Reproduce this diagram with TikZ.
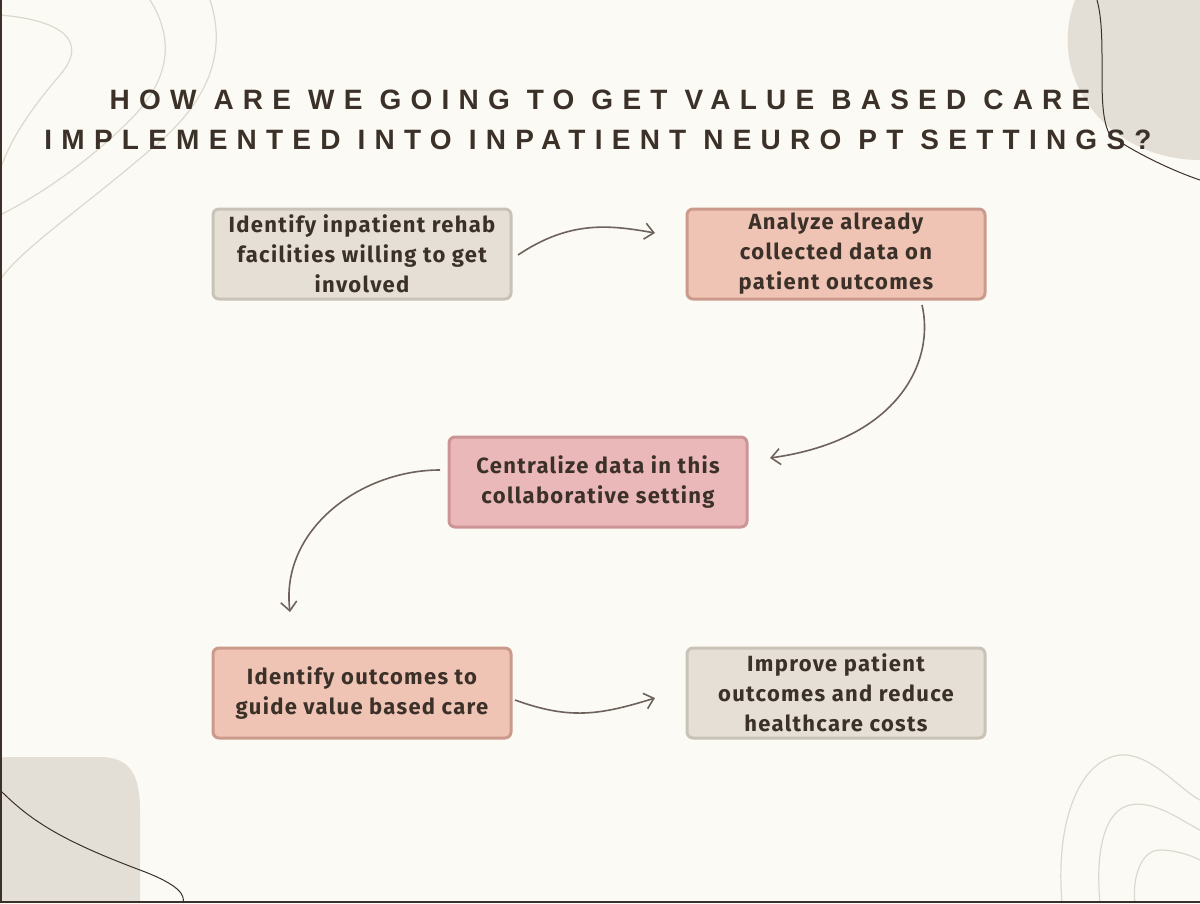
\documentclass[tikz,border=0pt]{standalone}
\usepackage{fontspec}
\setmainfont{Fira Sans}
\newfontfamily\boxfont[LetterSpace=6]{Fira Sans}
\newfontfamily\titlefont[LetterSpace=33]{Liberation Sans}
\usetikzlibrary{arrows.meta}
\definecolor{bg}{HTML}{FBFAF4}
\definecolor{ink}{HTML}{3B3129}
\definecolor{greyf}{HTML}{E5DFD6}
\definecolor{greyb}{HTML}{C9C2B6}
\definecolor{peachf}{HTML}{EFC4B5}
\definecolor{peachb}{HTML}{CC9A8C}
\definecolor{rosef}{HTML}{EAB8B8}
\definecolor{roseb}{HTML}{CC9494}
\definecolor{blob}{HTML}{E4DFD6}
\definecolor{contour}{HTML}{DDD8CE}
\definecolor{arr}{HTML}{6E625C}
\tikzset{
 box/.style={rounded corners=6pt,line width=3pt,minimum width=298pt,minimum height=90pt,align=center,text=ink,font=\boxfont\fontsize{22}{30}\selectfont\bfseries,inner sep=0pt},
 grey/.style={box,fill=greyf,draw=greyb},
 peach/.style={box,fill=peachf,draw=peachb},
 rose/.style={box,fill=rosef,draw=roseb},
 con/.style={draw=arr,line width=1.6pt,-{Straight Barb[length=9pt,width=16pt]}},
 cl/.style={draw=contour,line width=1.2pt},
 ttl/.style={text=ink,font=\titlefont\bfseries\fontsize{28}{30}\selectfont}
}
\begin{document}
\begin{tikzpicture}[x=1pt,y=-1pt]
\fill[bg] (0,0) rectangle (1200,903);
\useasboundingbox (0,0) rectangle (1200,903);
% decorations
\fill[blob] (1075,0) .. controls (1045,80) and (1110,160) .. (1200,160) -- (1200,0) -- cycle;
\draw[ink,line width=1pt] (1097,0) .. controls (1108,40) and (1095,110) .. (1110,135) .. controls (1130,150) and (1170,170) .. (1200,180);
\fill[blob] (0,757) -- (100,757) .. controls (130,757) and (140,775) .. (140,810) -- (140,903) -- (0,903) -- cycle;
\draw[ink,line width=1pt] (0,790) .. controls (30,820) and (60,840) .. (140,870) .. controls (180,885) and (185,895) .. (183,903);
\draw[cl] (0,15) .. controls (60,20) and (90,40) .. (60,75) .. controls (30,110) and (10,140) .. (0,170);
\draw[cl] (150,0) .. controls (175,40) and (170,80) .. (130,120) .. controls (80,170) and (30,200) .. (0,215);
\draw[cl] (210,0) .. controls (230,60) and (200,110) .. (150,150) .. controls (80,210) and (20,250) .. (0,280);
\draw[cl] (1062,903) .. controls (1055,820) and (1080,760) .. (1120,755) .. controls (1150,752) and (1180,790) .. (1200,800);
\draw[cl] (1100,903) .. controls (1095,850) and (1105,810) .. (1130,805) .. controls (1155,800) and (1180,820) .. (1200,830);
\draw[cl] (1135,903) .. controls (1132,880) and (1140,850) .. (1160,850) .. controls (1175,850) and (1190,855) .. (1200,860);
\draw[ink,line width=2pt] (1,0) -- (1,902) -- (1200,902);
% title
\node[ttl] (t1) at (600,100) {HOW ARE WE GOING TO GET VALUE BASED CARE};
\node[ttl] (t2) at (598,140) {IMPLEMENTED INTO INPATIENT NEURO PT SETTINGS?};
% boxes
\node[grey] (a) at (362,254) {Identify inpatient rehab\\facilities willing to get\\involved};
\node[peach] (b) at (836,254) {Analyze already\\collected data on\\patient outcomes};
\node[rose] (c) at (598,482) {Centralize data in this\\collaborative setting};
\node[peach] (d) at (362,693) {Identify outcomes to\\guide value based care};
\node[grey] (e) at (836,693) {Improve patient\\outcomes and reduce\\healthcare costs};
% connectors
\coordinate (a1) at (518,255);
\draw[con] (a1) .. controls (570,220) and (610,225) .. (655,233);
\coordinate (b1) at (922,305);
\draw[con] (b1) .. controls (935,360) and (900,440) .. (770,458);
\coordinate (c1) at (440,470);
\draw[con] (c1) .. controls (360,470) and (280,530) .. (290,612);
\coordinate (d1) at (515,700);
\draw[con] (d1) .. controls (570,720) and (600,715) .. (655,698);
\end{tikzpicture}
\end{document}
